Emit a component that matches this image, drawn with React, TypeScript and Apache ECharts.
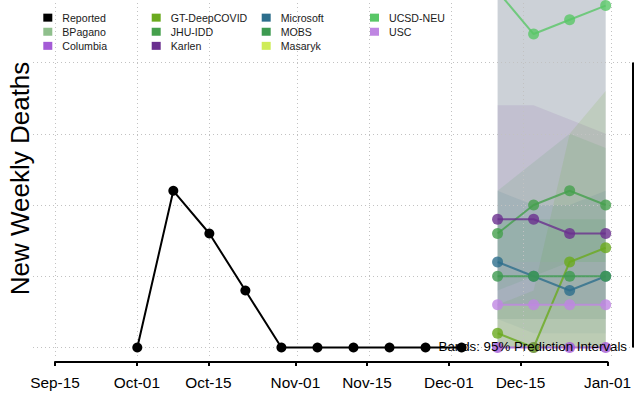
import React, { useEffect, useRef } from "react";
import * as echarts from "echarts";

const FONT = "'Liberation Sans', Arial, Helvetica, sans-serif";
const BASE_DATE = "2020-09-15";

const tickDates = ["2020-09-15", "2020-10-01", "2020-10-15", "2020-11-01", "2020-11-15", "2020-12-01", "2020-12-15", "2021-01-01"];
const tickLabels = ["Sep-15", "Oct-01", "Oct-15", "Nov-01", "Nov-15", "Dec-01", "Dec-15", "Jan-01"];
const gridYValues = [0, 5, 10, 15, 20];

const reportedDates = ["2020-10-01", "2020-10-08", "2020-10-15", "2020-10-22", "2020-10-29", "2020-11-05", "2020-11-12", "2020-11-19", "2020-11-26", "2020-12-03"];
const reportedValues = [0, 11, 8, 4, 0, 0, 0, 0, 0, 0];

const forecastDates = ["2020-12-10", "2020-12-17", "2020-12-24", "2020-12-31"];

const modelNames = ["BPagano", "Columbia", "GT-DeepCOVID", "JHU-IDD", "Karlen", "Microsoft", "MOBS", "Masaryk", "UCSD-NEU", "USC"];
const modelColors = ["#8fbf8c", "#a45bd6", "#6aaa1e", "#45a04c", "#6a2f8f", "#2d6e8c", "#3d9a50", "#cfec58", "#59c767", "#bf86e2"];

const bpaganoValues: number[] = [];
const columbiaValues = [0, 0, 0, 0];
const gtValues = [1, 0, 6, 7];
const jhuValues = [8, 10, 11, 10];
const karlenValues = [9, 9, 8, 8];
const microsoftValues = [6, 5, 4, 5];
const mobsValues = [5, 5, 5, 5];
const masarykValues: number[] = [];
const ucsdValues = [25, 22, 23, 24];
const uscValues = [3, 3, 3, 3];

// 95% prediction interval bands (lower / upper)
const ucsdLower = [0, 0, 0, 0];
const ucsdUpper = [45, 45, 45, 45];
const karlenLower = [2, 2, 2, 2];
const karlenUpper = [17, 17, 16, 15];
const gtLower = [0, 0, 0, 0];
const gtUpper = [3, 4, 15, 18];
const jhuLower = [4, 5, 6, 6];
const jhuUpper = [11, 13, 15, 14];
const microsoftLower = [2, 1, 1, 1];
const microsoftUpper = [11, 10, 10, 11];
const mobsLower = [2, 2, 2, 2];
const mobsUpper = [9, 9, 9, 9];
const uscLower = [0, 0, 0, 0];
const uscUpper = [6, 6, 6, 6];
const columbiaLower = [0, 0, 0, 0];
const columbiaUpper = [3, 3, 3, 3];

const legendColumns = [
  ["Reported", "BPagano", "Columbia"],
  ["GT-DeepCOVID", "JHU-IDD", "Karlen"],
  ["Microsoft", "MOBS", "Masaryk"],
  ["UCSD-NEU", "USC"],
];
const legendLefts = [43.3, 151.7, 261.7, 370];

const toDay = (s: string) => (Date.parse(s + "T00:00:00Z") - Date.parse(BASE_DATE + "T00:00:00Z")) / 86400000;

const Y_MIN = -0.597;
const Y_MAX = 24.39;

export default function App() {
  const ref = useRef<HTMLDivElement>(null);
  useEffect(() => {
    document.body.style.margin = "0";
    if (!ref.current) return;
    const chart = echarts.init(ref.current, null, { renderer: "svg" });

    const tickDays = tickDates.map(toDay);
    const labelMap: Record<string, string> = {};
    tickDays.forEach((d, i) => (labelMap[String(d)] = tickLabels[i]));
    const fDays = forecastDates.map(toDay);
    const pxPerDay = 5.147;
    const x0 = 54.95;
    const xMinA = (33 - x0) / pxPerDay;
    const xMaxA = (634 - x0) / pxPerDay;
    const rightAxisDay = (633 - x0) / pxPerDay;

    const modelValues: Record<string, number[]> = {
      BPagano: bpaganoValues,
      Columbia: columbiaValues,
      "GT-DeepCOVID": gtValues,
      "JHU-IDD": jhuValues,
      Karlen: karlenValues,
      Microsoft: microsoftValues,
      MOBS: mobsValues,
      Masaryk: masarykValues,
      "UCSD-NEU": ucsdValues,
      USC: uscValues,
    };
    const colorOf = (n: string) => modelColors[modelNames.indexOf(n)];

    const bandDefs: { name: string; lower: number[]; upper: number[]; color: string; opacity: number }[] = [
      { name: "UCSD-NEU", lower: ucsdLower, upper: ucsdUpper, color: "#ccd1d7", opacity: 1 },
      { name: "Karlen", lower: karlenLower, upper: karlenUpper, color: colorOf("Karlen"), opacity: 0.1 },
      { name: "GT-DeepCOVID", lower: gtLower, upper: gtUpper, color: colorOf("GT-DeepCOVID"), opacity: 0.13 },
      { name: "JHU-IDD", lower: jhuLower, upper: jhuUpper, color: colorOf("JHU-IDD"), opacity: 0.12 },
      { name: "Microsoft", lower: microsoftLower, upper: microsoftUpper, color: colorOf("Microsoft"), opacity: 0.1 },
      { name: "MOBS", lower: mobsLower, upper: mobsUpper, color: colorOf("MOBS"), opacity: 0.12 },
      { name: "USC", lower: uscLower, upper: uscUpper, color: colorOf("USC"), opacity: 0.08 },
      { name: "Columbia", lower: columbiaLower, upper: columbiaUpper, color: "#b8d89a", opacity: 0.35 },
    ];

    const clampY = (v: number) => Math.max(Y_MIN, Math.min(Y_MAX, v));

    const series: any[] = [];
    bandDefs.forEach((b) => {
      series.push({
        name: b.name + " band",
        type: "custom",
        xAxisIndex: 0,
        yAxisIndex: 0,
        silent: true,
        clip: true,
        z: 0,
        data: [[fDays[0], b.lower[0]]],
        renderItem: (_params: any, api: any) => {
          const pts: number[][] = [];
          fDays.forEach((d, k) => pts.push(api.coord([d, clampY(b.upper[k])])));
          for (let k = fDays.length - 1; k >= 0; k--) pts.push(api.coord([fDays[k], clampY(b.lower[k])]));
          return {
            type: "polygon",
            shape: { points: pts },
            style: { fill: b.color, opacity: b.opacity },
          };
        },
      });
    });

    const dotted = { color: "#c2c2c2", width: 1, type: [1, 3] as any };
    series.push({
      name: "gridlines",
      type: "line",
      xAxisIndex: 0,
      yAxisIndex: 0,
      data: [],
      silent: true,
      z: 1,
      markLine: {
        silent: true,
        z: 1,
        symbol: ["none", "none"],
        label: { show: false },
        lineStyle: dotted,
        data: [
          ...gridYValues.map((v) => ({ yAxis: v })),
          ...tickDays.map((d) => ({ xAxis: d })),
        ],
      },
    });
    series.push({
      name: "right axis",
      type: "line",
      xAxisIndex: 0,
      yAxisIndex: 0,
      data: [],
      silent: true,
      markLine: {
        silent: true,
        symbol: ["none", "none"],
        label: { show: false },
        lineStyle: { color: "#000", width: 2, type: "solid" },
        data: [[{ coord: [rightAxisDay, gridYValues[0]] }, { coord: [rightAxisDay, gridYValues[gridYValues.length - 1]] }]],
      },
    });

    series.push({
      name: "Reported",
      type: "line",
      xAxisIndex: 0,
      yAxisIndex: 0,
      z: 3,
      color: "#000",
      symbol: "circle",
      symbolSize: 10,
      lineStyle: { color: "#000", width: 2 },
      itemStyle: { color: "#000" },
      data: reportedDates.map((d, i) => [toDay(d), reportedValues[i]]),
    });

    modelNames.forEach((n) => {
      const c = colorOf(n);
      const vals = modelValues[n];
      series.push({
        name: n,
        type: "line",
        xAxisIndex: 0,
        yAxisIndex: 0,
        z: 3,
        color: c,
        symbol: "circle",
        symbolSize: 11,
        lineStyle: { color: c, width: 2, opacity: 0.8 },
        itemStyle: { color: c, opacity: 0.8 },
        data: vals.map((v, k) => [fDays[k], v]),
      });
    });

    const option: any = {
      animation: false,
      grid: [
        { left: 33, right: 0, top: 0, bottom: 41 },
        { left: 55, right: 23.1, top: 0, bottom: 35 },
      ],
      xAxis: [
        { type: "value", gridIndex: 0, min: xMinA, max: xMaxA, show: false },
        {
          type: "value",
          gridIndex: 1,
          min: tickDays[0],
          max: tickDays[tickDays.length - 1],
          position: "bottom",
          axisLine: { show: true, onZero: false, lineStyle: { color: "#000", width: 2 } },
          axisTick: { show: true, length: 4, lineStyle: { color: "#000", width: 2 }, customValues: tickDays },
          axisLabel: {
            customValues: tickDays,
            formatter: (v: number) => labelMap[String(v)] ?? "",
            margin: 12,
            color: "#000",
            fontSize: 15.4,
            lineHeight: 16,
            fontFamily: FONT,
          },
          splitLine: { show: false },
        },
      ],
      yAxis: [
        { type: "value", gridIndex: 0, min: Y_MIN, max: Y_MAX, show: false },
        { type: "value", gridIndex: 1, min: 0, max: 1, show: false },
      ],
      legend: legendColumns.map((col, i) => ({
        data: col,
        left: legendLefts[i],
        top: 10.6,
        orient: "vertical",
        padding: 0,
        itemGap: 0,
        itemWidth: 9,
        itemHeight: 8,
        icon: "rect",
        selectedMode: false,
        itemStyle: { opacity: 1 },
        textStyle: { fontSize: 10.6, lineHeight: 14.1, color: "#1a1a1a", fontFamily: FONT, padding: [0, 0, 0, 5] },
      })),
      graphic: [
        {
          type: "text",
          x: 19.5,
          y: 178.5,
          rotation: Math.PI / 2,
          z: 100,
          style: { text: "New Weekly Deaths", fontSize: 26, fontFamily: FONT, fill: "#000", align: "center", verticalAlign: "middle" },
        },
        {
          type: "text",
          x: 627,
          y: 346,
          z: 100,
          style: { text: "Bands: 95% Prediction Intervals", fontSize: 13.3, fontFamily: FONT, fill: "#000", align: "right", verticalAlign: "middle" },
        },
      ],
      series,
    };
    chart.setOption(option);
    return () => chart.dispose();
  }, []);
  return <div ref={ref} style={{ width: 634, height: 397 }} />;
}
